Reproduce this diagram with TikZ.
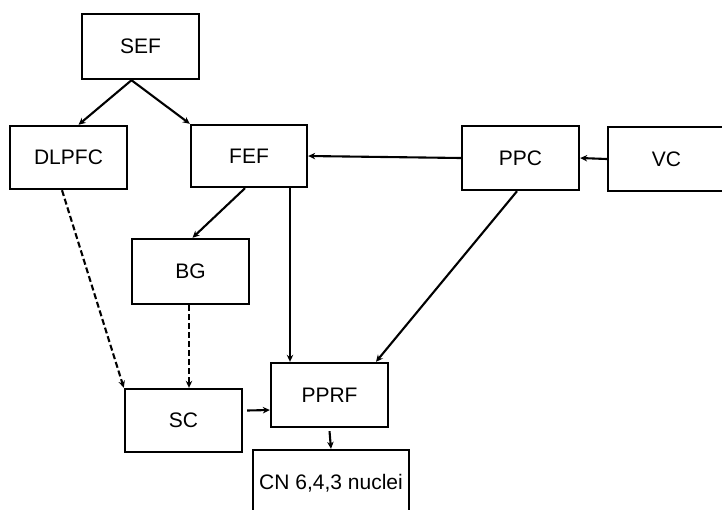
\documentclass[tikz,border=0pt]{standalone}
\usepackage{fontspec}
\setmainfont{Liberation Sans}
\usetikzlibrary{arrows.meta,calc}
\begin{document}
\begin{tikzpicture}[x=1pt,y=-1pt,
  box/.style={draw,line width=2.4pt,rectangle,inner sep=0pt,font=\fontsize{21}{25}\selectfont},
  conn/.style={line width=2.1pt,-{Stealth[length=7pt,width=6.5pt]}},
  dconn/.style={conn,dash pattern=on 6pt off 3pt}]
\useasboundingbox (0,0) rectangle (722,509);
\clip (0,0) rectangle (722,509);
\fill[white] (0,0) rectangle (722,509);
\node[box,minimum width=117pt,minimum height=65pt] (sef) at (140.5,46.5) {SEF};
\node[box,minimum width=117pt,minimum height=63pt] (dlpfc) at (68.5,157.5) {DLPFC};
\node[box,minimum width=116pt,minimum height=62pt] (fef) at (249,156) {FEF};
\node[box,minimum width=117pt,minimum height=64pt] (ppc) at (520.5,158) {PPC};
\node[box,minimum width=117pt,minimum height=64pt] (vc) at (666.5,159) {VC};
\node[box,minimum width=117pt,minimum height=65pt] (bg) at (190.5,271.5) {BG};
\node[box,minimum width=117pt,minimum height=63pt] (sc) at (183.5,420.5) {SC};
\node[box,minimum width=117pt,minimum height=64pt] (pprf) at (329.5,395) {PPRF};
\node[box,minimum width=156pt,minimum height=66pt] (cn) at (331,483) {CN 6,4,3 nuclei};
\coordinate (sefb) at ($(sef.south)+(-9,0)$);
\draw[conn] (sefb) -- ($(dlpfc.north)+(10,0)$);
\draw[conn] (sefb) -- (fef.north west);
\draw[conn] (vc.west) -- (ppc.east);
\draw[conn] (ppc.west) -- (fef.east);
\draw[conn] ($(fef.south)+(-4,0)$) -- ($(bg.north)+(2,0)$);
\draw[conn] ($(fef.south)+(41,0)$) -- ($(pprf.north)+(-39.5,0)$);
\draw[conn] ($(ppc.south)+(-3.5,0)$) -- ($(pprf.north)+(46.5,0)$);
\draw[dconn] ($(dlpfc.south)+(-6.5,0)$) -- (sc.north west);
\draw[dconn] ($(bg.south)+(-1.5,0)$) -- ($(sc.north)+(5.5,0)$);
\draw[conn] ($(sc.east)+(4,-10)$) -- ($(pprf.west)+(0,15)$);
\draw[conn] ($(pprf.south)+(0,3)$) -- (cn.north);
\end{tikzpicture}
\end{document}
